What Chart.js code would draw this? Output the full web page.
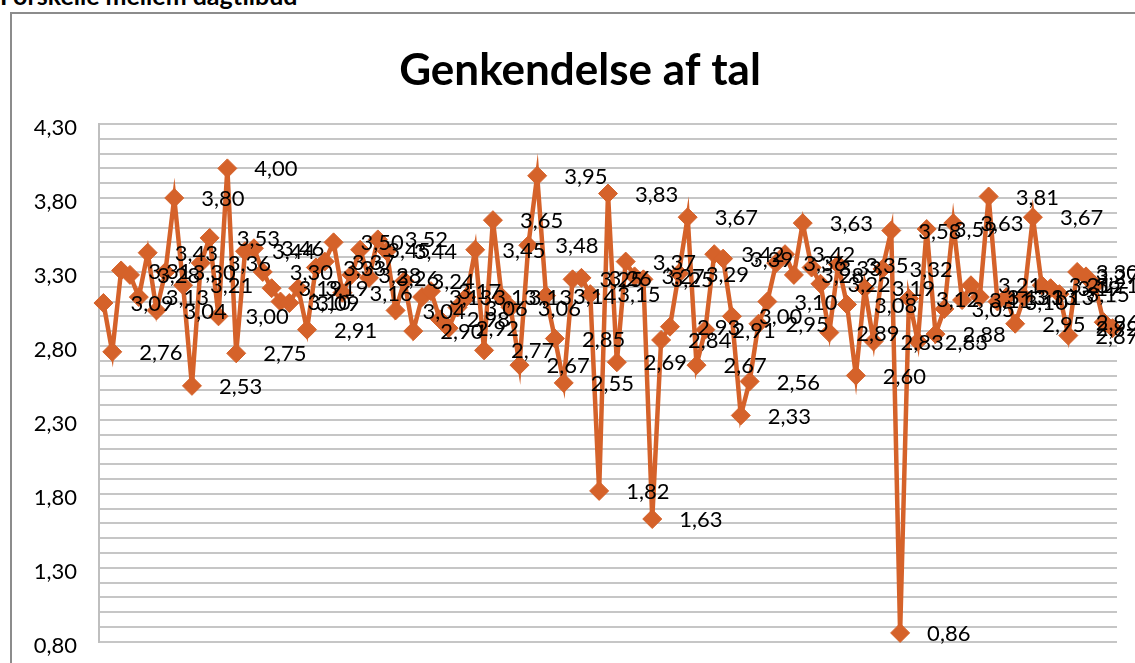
<!DOCTYPE html>
<html>
<head>
<meta charset="UTF-8">
<title>Genkendelse af tal</title>
<script src="https://cdn.jsdelivr.net/npm/chart.js"></script>
<style>
  html, body { margin: 0; padding: 0; background: #fff; overflow: hidden; }
  body { width: 1135px; height: 663px; position: relative; font-family: Lato, "Open Sans", sans-serif; }
  .top-note { position: absolute; left: 0px; top: -17px; font-size: 25px; font-weight: bold; line-height: 25px; color: #000; white-space: nowrap; }
  .frame { position: absolute; left: 10px; top: 12px; width: 1200px; height: 700px; border: 2px solid #8c8c8c; box-sizing: border-box; }
  .chart-box { position: absolute; left: 0; top: 0; width: 1135px; height: 677px; }
</style>
</head>
<body>
<div class="top-note">Forskelle mellem dagtilbud</div>
<div class="frame"></div>
<div class="chart-box"><canvas id="genkendelseChart" width="1135" height="677"></canvas></div>
<script>
// Gennemsnit pr. dagtilbud
const scores = [
    3.09, 2.76, 3.31, 3.28, 3.13, 3.43, 3.04, 3.30, 3.80, 3.21,
    2.53, 3.36, 3.53, 3.00, 4.00, 2.75, 3.44, 3.46, 3.30, 3.19,
    3.10, 3.09, 3.19, 2.91, 3.33, 3.37, 3.50, 3.16, 3.28, 3.45,
    3.26, 3.52, 3.44, 3.04, 3.24, 2.90, 3.13, 3.17, 2.98, 2.92,
    3.06, 3.13, 3.45, 2.77, 3.65, 3.13, 3.06, 2.67, 3.48, 3.95,
    3.14, 2.85, 2.55, 3.25, 3.26, 3.15, 1.82, 3.83, 2.69, 3.37,
    3.27, 3.25, 1.63, 2.84, 2.93, 3.29, 3.67, 2.67, 2.91, 3.42,
    3.39, 3.00, 2.33, 2.56, 2.95, 3.10, 3.36, 3.42, 3.28, 3.63,
    3.33, 3.22, 2.89, 3.35, 3.08, 2.60, 3.19, 2.83, 3.32, 3.58,
    0.86, 3.12, 2.83, 3.59, 2.88, 3.05, 3.63, 3.11, 3.21, 3.13,
    3.81, 3.10, 3.13, 2.95, 3.13, 3.67, 3.21, 3.19, 3.15, 2.87,
    3.30, 3.27, 3.21, 2.96, 2.92
];
const categories = scores.map((_, i) => String(i + 1));
const yMin = 0.8;
const yMax = 4.3;

const orange = '#D5622A';
const fmt = v => v.toFixed(2).replace('.', ',');

// dataetiketter til højre for hvert punkt (skubbes ind ved kanten som i Excel)
const valueLabels = {
    id: 'valueLabels',
    afterDatasetsDraw(chart) {
        const ctx = chart.ctx;
        const meta = chart.getDatasetMeta(0);
        ctx.save();
        ctx.font = '22px Lato, "Open Sans", sans-serif';
        ctx.fillStyle = '#000';
        ctx.textAlign = 'left';
        ctx.textBaseline = 'middle';
        meta.data.forEach((pt, i) => {
            const txt = fmt(scores[i]);
            const w = ctx.measureText(txt).width;
            const x = Math.min(pt.x + 27, 1139 - w);
            ctx.fillText(txt, x, pt.y + 1);
        });
        ctx.restore();
    }
};

const ctx = document.getElementById('genkendelseChart').getContext('2d');
new Chart(ctx, {
    type: 'line',
    data: {
        labels: categories,
        datasets: [{
            data: scores,
            borderColor: orange,
            backgroundColor: orange,
            borderWidth: 4.5,
            pointStyle: 'rectRot',
            pointRadius: 9.5,
            pointBorderWidth: 1,
            pointBackgroundColor: orange,
            pointBorderColor: orange,
            tension: 0,
            clip: false
        }]
    },
    options: {
        responsive: false,
        animation: false,
        devicePixelRatio: 1,
        layout: { padding: { top: 124, right: 18, bottom: 9, left: 0 } },
        plugins: {
            legend: { display: false },
            tooltip: { enabled: false },
            title: { display: false }
        },
        scales: {
            x: {
                display: false,
                offset: true
            },
            y: {
                min: yMin,
                max: yMax,
                afterFit(scale) { scale.width = 99; },
                border: { display: true, color: '#bfbfbf', width: 2 },
                grid: { color: '#c6c6c6', lineWidth: 2, drawTicks: false },
                ticks: {
                    stepSize: 0.1,
                    maxTicksLimit: 100,
                    autoSkip: false,
                    padding: 22,
                    labelOffset: 4,
                    color: '#000',
                    font: { family: 'Lato, "Open Sans", sans-serif', size: 22 },
                    callback: (value, index) => index % 5 === 0 ? fmt(value) : ''
                }
            }
        }
    },
    plugins: [valueLabels, {
        id: 'chartTitle',
        afterDraw(chart) {
            const c = chart.ctx;
            c.save();
            c.font = 'bold 44px Lato, "Open Sans", sans-serif';
            c.fillStyle = '#000';
            c.textAlign = 'center';
            c.textBaseline = 'alphabetic';
            c.fillText('Genkendelse af tal', 580, 85);
            c.restore();
        }
    }]
});
</script>
</body>
</html>
